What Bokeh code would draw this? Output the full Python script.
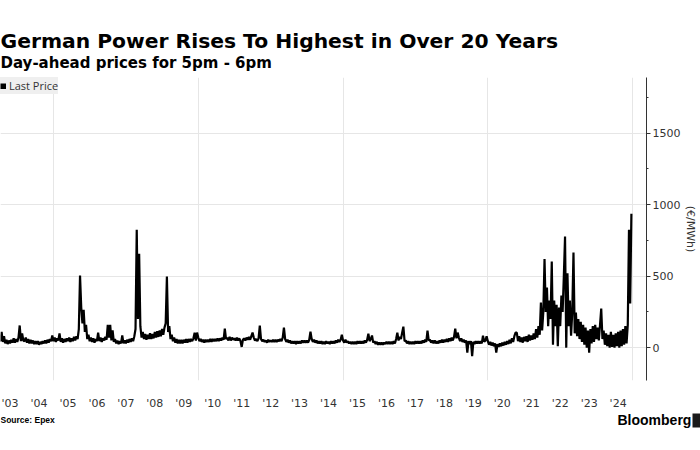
from bokeh.plotting import figure
from bokeh.layouts import column
from bokeh.models import (Range1d, FixedTicker, SingleIntervalTicker, Label,
                          Legend, LegendItem, ColumnDataSource, BoxAnnotation)
from bokeh.embed import file_html
from bokeh.resources import INLINE

# Day-ahead price for 5pm-6pm (EUR/MWh) at ~semi-monthly steps
years = list(range(2003, 2025))
p2003 = [40, 65, 35, 60, 45, 110, 40, 80, 30, 55, 25, 50, 30, 55, 35, 65, 35, 60, 40, 70, 155, 45, 100, 50]
p2004 = [45, 70, 35, 60, 30, 55, 30, 50, 25, 45, 25, 45, 20, 40, 25, 45, 30, 50, 30, 55, 35, 60, 45, 85]
p2005 = [45, 70, 40, 65, 50, 100, 40, 65, 35, 60, 40, 65, 45, 70, 40, 65, 45, 75, 50, 80, 60, 130, 504, 280]
p2006 = [170, 265, 110, 160, 60, 90, 45, 70, 40, 65, 35, 60, 45, 105, 45, 70, 40, 65, 50, 75, 55, 160, 70, 160]
p2007 = [50, 120, 40, 60, 30, 50, 25, 45, 30, 85, 30, 50, 30, 55, 35, 60, 40, 65, 45, 80, 130, 825, 200, 657]
p2008 = [150, 70, 110, 60, 95, 55, 90, 60, 100, 60, 95, 65, 110, 70, 115, 75, 120, 80, 130, 90, 140, 170, 497, 110]
p2009 = [150, 60, 90, 45, 70, 35, 60, 30, 55, 30, 55, 30, 55, 35, 60, 35, 60, 40, 60, 45, 65, 105, 50, 105]
p2010 = [70, 45, 60, 40, 55, 35, 55, 40, 55, 40, 60, 40, 60, 45, 60, 45, 65, 45, 65, 50, 70, 55, 133, 60]
p2011 = [70, 50, 75, 50, 70, 55, 65, 50, 70, 50, 65, 45, 5, 55, 65, 50, 70, 55, 75, 55, 80, 105, 70, 50]
p2012 = [60, 45, 65, 154, 60, 45, 55, 40, 50, 35, 55, 40, 50, 40, 55, 40, 55, 40, 55, 45, 60, 45, 70, 140]
p2013 = [60, 40, 55, 35, 50, 30, 45, 30, 45, 25, 45, 30, 45, 30, 50, 35, 50, 35, 50, 35, 55, 112, 60, 40]
p2014 = [55, 35, 50, 30, 45, 30, 45, 25, 40, 25, 45, 30, 40, 25, 45, 30, 45, 30, 50, 35, 55, 40, 55, 90]
p2015 = [50, 35, 55, 35, 45, 30, 40, 25, 40, 25, 40, 25, 45, 30, 45, 30, 45, 30, 50, 35, 55, 98, 45, 60]
p2016 = [85, 35, 45, 25, 40, 20, 35, 20, 35, 20, 35, 25, 40, 25, 40, 25, 40, 25, 45, 30, 60, 105, 50, 75]
p2017 = [60, 105, 147, 45, 50, 30, 45, 25, 40, 25, 40, 25, 45, 30, 45, 30, 45, 30, 50, 35, 55, 40, 119, 50]
p2018 = [55, 35, 50, 30, 50, 30, 45, 30, 50, 35, 55, 35, 55, 40, 60, 40, 65, 45, 70, 50, 75, 133, 65, 105]
p2019 = [70, 45, 65, 40, 55, 35, 50, -35, 45, 25, 45, -60, 40, 25, 45, 30, 45, 30, 45, 30, 84, 40, 50, 80]
p2020 = [45, 20, 40, 15, 35, 10, 30, -35, 25, 5, 30, 10, 35, 15, 40, 20, 45, 25, 55, 30, 65, 40, 80, 105]
p2021 = [105, 45, 80, 40, 70, 35, 75, 45, 80, 40, 90, 50, 85, 55, 100, 60, 130, 70, 150, 90, 315, 120, 250, 620]
p2022 = [250, 420, 150, 330, 200, 602, 20, 330, 150, 300, 10, 280, 150, 364, 250, 500, 777, 0, 520, 150, 330, 84, 250, 665]
p2023 = [100, 245, 80, 200, 60, 180, 40, 160, 20, 140, 0, 120, -35, 130, 30, 150, 40, 160, 60, 140, 50, 160, 273, 60]
p2024 = [120, 20, 100, 10, 90, 0, 110, 5, 90, 0, 100, 10, 110, 0, 120, 10, 130, 20, 150, 30, 160, 825, 308, 937]

tick_years = list(range(2003, 2025))
tick_labels = ["'03", "'04", "'05", "'06", "'07", "'08", "'09", "'10", "'11", "'12", "'13",
               "'14", "'15", "'16", "'17", "'18", "'19", "'20", "'21", "'22", "'23", "'24"]
y_ticks = [0, 500, 1000, 1500]

series = [p2003, p2004, p2005, p2006, p2007, p2008, p2009, p2010, p2011, p2012, p2013,
          p2014, p2015, p2016, p2017, p2018, p2019, p2020, p2021, p2022, p2023, p2024]
xs, ys = [], []
for yr, vals in zip(years, series):
    n = len(vals)
    for i, v in enumerate(vals):
        xs.append(yr + i / n)
        ys.append(v)
src = ColumnDataSource(dict(t=xs, price=ys))

W = 700


def text_strip(h):
    f = figure(frame_width=W, frame_height=h, x_range=Range1d(0, W), y_range=Range1d(0, h),
               x_axis_type=None, y_axis_type=None, output_backend="svg",
               toolbar_location=None, min_border=0)
    try:
        f.frame_align = False
    except AttributeError:
        pass
    f.outline_line_color = None
    f.background_fill_color = "white"
    f.border_fill_color = "white"
    return f


def lab(fig, text, x, y, size, bold=True, font="DejaVu Sans", color="black"):
    fig.add_layout(Label(x=x, y=y, x_units="screen", y_units="screen", text=text,
                         text_font=font, text_font_size=size,
                         text_font_style="bold" if bold else "normal",
                         text_color=color, text_baseline="alphabetic"))


# header (canvas y 0..77)
hdr = text_strip(77)
lab(hdr, "German Power Rises To Highest in Over 20 Years", 0, 37, "20.3px")
lab(hdr, "Day-ahead prices for 5pm - 6pm", 0, 15, "15px")

# main chart (canvas y 77..412)
p = figure(width=W, height=335, output_backend="svg", toolbar_location=None,
           x_range=Range1d(2003.17, 2025.48), y_range=Range1d(-230, 1890),
           y_axis_location="right", min_border_left=0, min_border_right=54,
           min_border_top=0, min_border_bottom=32)
p.outline_line_color = None
p.background_fill_color = "white"
p.border_fill_color = "white"

p.xgrid.ticker = FixedTicker(ticks=[2005, 2010, 2015, 2020, 2025])
p.xgrid.grid_line_color = "#e6e6e6"
p.ygrid.ticker = FixedTicker(ticks=y_ticks)
p.ygrid.grid_line_color = "#e6e6e6"

xa = p.xaxis[0]
xa.ticker = FixedTicker(ticks=[y + 0.5 for y in tick_years])
xa.major_label_overrides = {y + 0.5: l for y, l in zip(tick_years, tick_labels)}
xa.axis_line_color = None
xa.major_tick_line_color = None
xa.minor_tick_line_color = None
xa.major_label_standoff = 10
xa.major_label_text_font = "DejaVu Sans"
xa.major_label_text_font_size = "11px"
xa.major_label_text_color = "#333333"

ya = p.yaxis[0]
ya.ticker = SingleIntervalTicker(interval=500, num_minor_ticks=2)
ya.axis_line_color = "#333333"
ya.major_tick_line_color = "#333333"
ya.minor_tick_line_color = "#333333"
ya.major_tick_in = 0
ya.major_tick_out = 4
ya.minor_tick_in = 0
ya.minor_tick_out = 2
ya.major_label_standoff = 2
ya.major_label_text_font = "DejaVu Sans"
ya.major_label_text_font_size = "11px"
ya.major_label_text_color = "#333333"
ya.axis_label = "(€/MWh)"
ya.axis_label_standoff = 1
ya.axis_label_text_font = "DejaVu Sans"
ya.axis_label_text_font_size = "11px"
ya.axis_label_text_font_style = "normal"
ya.axis_label_text_color = "#333333"

p.line("t", "price", source=src, line_color="black", line_width=2.2)
# legend swatch only (a single non-plotted point so the legend draws its glyph)
swatch = p.line([float("nan")], [float("nan")], line_color="black", line_width=6)

legend = Legend(items=[LegendItem(label="Last Price", renderers=[swatch])],
                location="top_left", margin=0, padding=3, spacing=0,
                glyph_width=6, glyph_height=6, label_standoff=3, label_height=17,
                label_width=48,
                label_text_font="Open Sans", label_text_font_size="11px",
                label_text_color="#333333",
                background_fill_color="#efefef", background_fill_alpha=1,
                border_line_color=None)
p.add_layout(legend)

# footer (canvas y 412..450)
ftr = text_strip(38)
lab(ftr, "Source: Epex", 0, 31, "8.5px", font="Liberation Sans")
lab(ftr, "Bloomberg", 617, 31, "14px", font="Liberation Sans")
ftr.add_layout(BoxAnnotation(left=692, right=702, bottom=23, top=37,
                             left_units="screen", right_units="screen",
                             bottom_units="screen", top_units="screen",
                             fill_color="#1a1a1a", fill_alpha=1, line_color=None))

layout = column(hdr, p, ftr, spacing=0)
open("out.html", "w").write(file_html(layout, INLINE))
